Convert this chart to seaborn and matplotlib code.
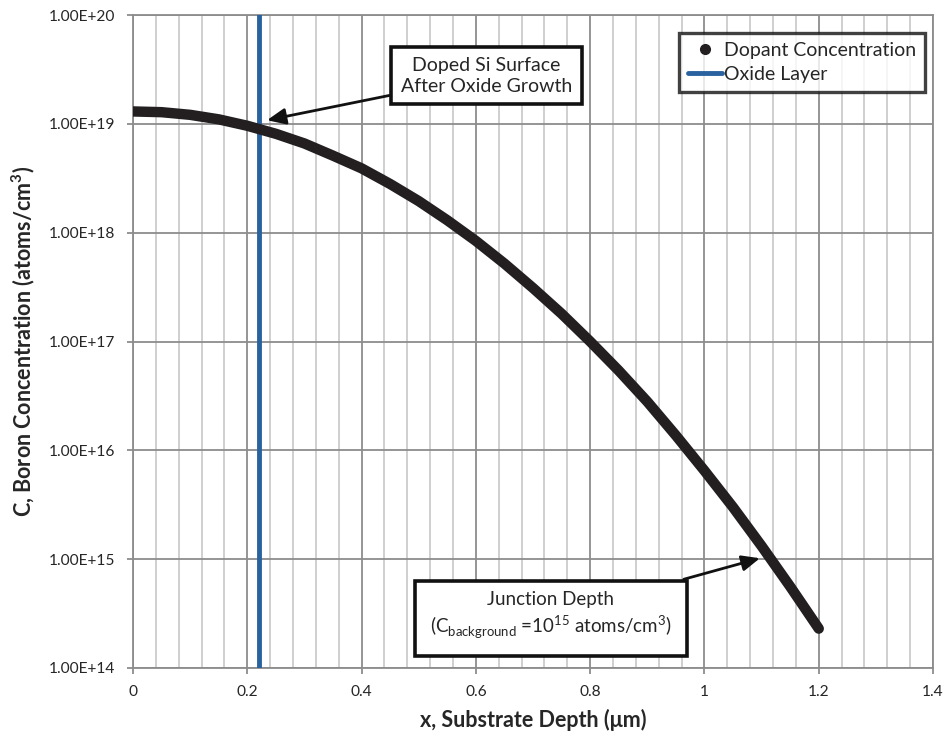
import matplotlib
matplotlib.use('Agg')
import matplotlib.pyplot as plt
import matplotlib.ticker as mticker
from matplotlib.lines import Line2D
import pandas as pd
import seaborn as sns

# ── Datos ─────────────────────────────────────────────────
depth_um = [0.00, 0.05, 0.10, 0.15, 0.20, 0.25, 0.30, 0.35, 0.40, 0.45,
            0.50, 0.55, 0.60, 0.65, 0.70, 0.75, 0.80, 0.85, 0.90, 0.95,
            1.00, 1.05, 1.10, 1.15, 1.20]
boron_conc = [1.30e19, 1.28e19, 1.21e19, 1.10e19, 9.6e18, 8.1e18, 6.6e18,
              5.1e18, 3.9e18, 2.8e18, 1.95e18, 1.30e18, 8.4e17, 5.2e17,
              3.1e17, 1.8e17, 1.0e17, 5.4e16, 2.8e16, 1.37e16, 6.5e15,
              3.0e15, 1.32e15, 5.6e14, 2.3e14]
oxide_x = 0.22
y_ticks = [1e14, 1e15, 1e16, 1e17, 1e18, 1e19, 1e20]
x_ticks = [0, 0.2, 0.4, 0.6, 0.8, 1, 1.2, 1.4]
x_tick_labels = ['0', '0.2', '0.4', '0.6', '0.8', '1', '1.2', '1.4']

df = pd.DataFrame({'x': depth_um, 'C': boron_conc})

# ── Estilo ────────────────────────────────────────────────
sns.set_theme(style='white')
plt.rcParams['font.family'] = ['Lato', 'DejaVu Sans']
plt.rcParams['mathtext.fontset'] = 'custom'
plt.rcParams['mathtext.rm'] = 'Lato'
plt.rcParams['mathtext.bf'] = 'Lato:bold'

GRID_MAJOR = '#8c8c8c'
GRID_MINOR = '#cccccc'
BLUE = '#2a62a0'
BLACK = '#231f20'
TXT = '#262626'

fig = plt.figure(figsize=(9.46, 7.36), dpi=100)
ax = fig.add_axes([0.1406, 0.0924, 0.8457, 0.8872])

sns.lineplot(data=df, x='x', y='C', ax=ax, color=BLACK, linewidth=7.5,
             solid_capstyle='round', solid_joinstyle='round', zorder=4)
ax.axvline(oxide_x, color=BLUE, linewidth=3.5, zorder=3)

ax.set_yscale('log')
ax.set_xlim(0, 1.4)
ax.set_ylim(1e14, 1e20)
ax.set_yticks(y_ticks)
ax.yaxis.set_minor_locator(mticker.NullLocator())
ax.yaxis.set_major_formatter(mticker.FuncFormatter(
    lambda v, p: '{:.2E}'.format(v)))
ax.set_xticks(x_ticks)
ax.set_xticklabels(x_tick_labels)
ax.xaxis.set_minor_locator(mticker.MultipleLocator(0.04))

ax.grid(which='major', axis='both', color=GRID_MAJOR, linewidth=1.3, zorder=0)
ax.grid(which='minor', axis='x', color=GRID_MINOR, linewidth=1.3, zorder=0)
ax.set_axisbelow(True)
for s in ax.spines.values():
    s.set_color(GRID_MAJOR)
    s.set_linewidth(1.3)
ax.tick_params(which='major', length=4.5, width=1.3, color=GRID_MAJOR,
               labelsize=11.2, labelcolor=TXT, direction='out',
               bottom=True, left=True, pad=8)
ax.tick_params(which='minor', length=0)

ax.set_xlabel('x, Substrate Depth (μm)', fontsize=15.5, fontweight='bold',
              color=TXT, labelpad=7)
ax.set_ylabel(r'C, Boron Concentration (atoms/cm$^{\mathbf{3}}$)', fontsize=15.5,
              fontweight='bold', color=TXT, labelpad=9)

# ── Leyenda ───────────────────────────────────────────────
handles = [Line2D([], [], color=BLACK, marker='o', linestyle='none',
                  markersize=7),
           Line2D([], [], color=BLUE, linewidth=3.5)]
leg = ax.legend(handles, ['Dopant Concentration', 'Oxide Layer'],
                loc='upper right', bbox_to_anchor=(0.99, 0.972),
                borderaxespad=0, fontsize=14, frameon=True, fancybox=False,
                handlelength=1.75, handletextpad=0.1, borderpad=0.45,
                labelspacing=0.35)
leg.get_frame().set_edgecolor('#111111')
leg.get_frame().set_linewidth(2.4)
for t in leg.get_texts():
    t.set_color(TXT)

# ── Anotaciones ───────────────────────────────────────────
arrow = dict(arrowstyle='-|>,head_length=0.8,head_width=0.35', color='#111111',
             lw=2, shrinkA=0, shrinkB=0)

ax.annotate('Doped Si Surface\nAfter Oxide Growth', xy=(0.2345, 1.08e19),
            xytext=(0.618, 2.76e19), ha='center', va='center',
            fontsize=14, color=TXT, arrowprops=arrow, zorder=6,
            linespacing=1.25,
            bbox=dict(boxstyle='square,pad=0.5', fc='white', ec='#111111',
                      lw=2.6))

ax.annotate('Junction Depth\n(C$_{\\mathregular{background}}$ =10$^{15}$ atoms/cm$^{3}$)',
            xy=(1.097, 1.02e15), xytext=(0.731, 3.0e14), ha='center',
            va='center', fontsize=13.5, color=TXT, arrowprops=arrow,
            zorder=6, linespacing=1.3,
            bbox=dict(boxstyle='square,pad=0.8', fc='white', ec='#111111',
                      lw=2.6))

fig.savefig('out.png', dpi=100)
